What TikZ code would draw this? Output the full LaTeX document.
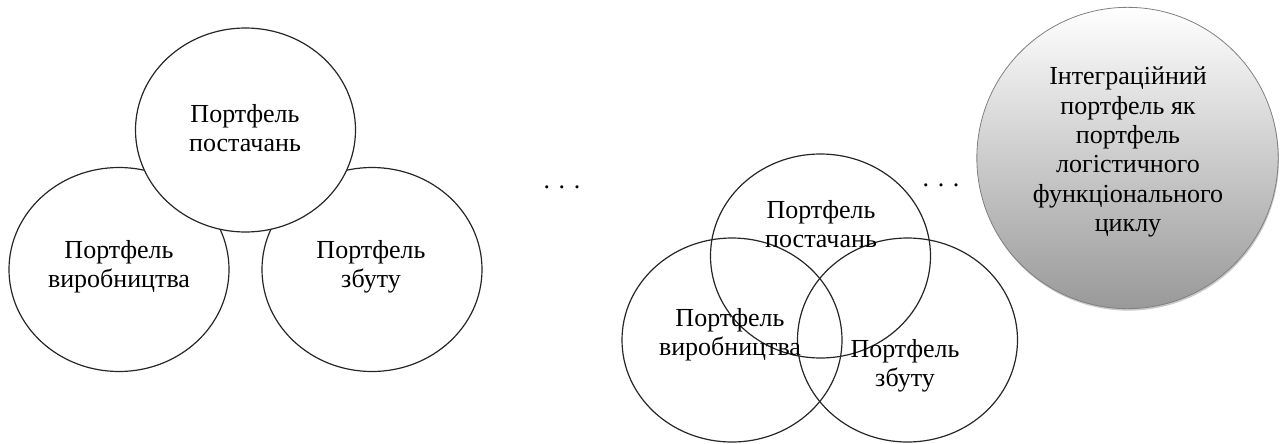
\documentclass[tikz,border=0pt]{standalone}
\usepackage{fontspec}
\setmainfont{Liberation Serif}
\usetikzlibrary{shapes.geometric,shadows}
\begin{document}
\begin{tikzpicture}[x=0.75pt,y=-0.75pt,
  ring/.style={draw=black!85,line width=0.9pt,ellipse,minimum width=165pt,minimum height=153pt,inner sep=0pt,outer sep=0pt},
  lbl/.style={align=center,font=\fontsize{19.5}{22}\selectfont,inner sep=0pt},
  dots/.style={font=\fontsize{19.5}{22}\selectfont,inner sep=0pt,anchor=base},
  ball/.style={circle,draw=black!50,line width=0.6pt,minimum size=226pt,inner sep=0pt,
    top color=white,bottom color=black!40,shading angle=0,
    drop shadow={shadow xshift=0.6pt,shadow yshift=-1.5pt,fill=black!35,opacity=0.6}}]
\useasboundingbox (0,0) rectangle (1282,443);
% left group
\node[ring] (ll) at (119,269.5) {};
\node[ring] (lr) at (372,269.5) {};
\node[ring,fill=white] (lt) at (245.5,130) {};
\node[lbl] (ltt) at (245,128) {Портфель\\постачань};
\node[lbl] (llt) at (119,267) {Портфель\\виробництва};
\node[lbl] (lrt) at (371,267) {Портфель\\збуту};
% dots
\node[dots] (d1) at (562,188) {. . .};
% right group
\node[ring] (rt) at (820.5,256) {};
\node[ring] (rl) at (732,340) {};
\node[ring] (rr) at (907.5,340) {};
\node[lbl] (rtt) at (821,224) {Портфель\\постачань};
\node[lbl] (rlt) at (730,335) {Портфель\\виробництва};
\node[lbl] (rrt) at (905,366) {Портфель\\збуту};
\node[dots] (d2) at (941,186) {. . .};
% integration ball
\node[ball] (b) at (1127.5,158) {};
\node[lbl] (bt) at (1128,152) {Інтеграційний\\портфель як\\портфель\\логістичного\\функціонального\\циклу};
\end{tikzpicture}
\end{document}
